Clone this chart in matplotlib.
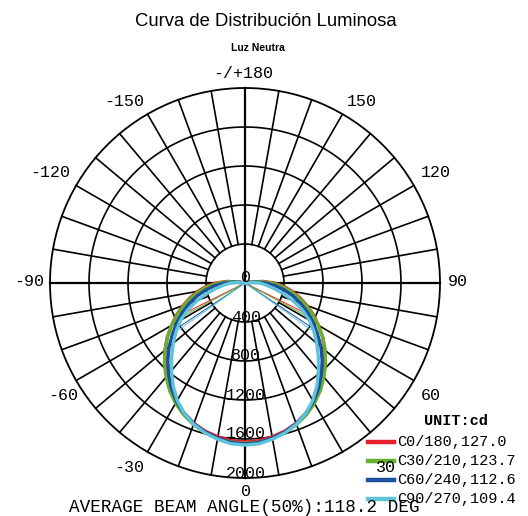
import numpy as np
import matplotlib
matplotlib.use("Agg")
import matplotlib.pyplot as plt
from matplotlib.lines import Line2D

# ---------------- data ----------------
angles = [0, 5, 10, 15, 20, 25, 30, 35, 40, 45, 50, 55, 60, 65, 70, 75, 80,
          85, 90, 95, 100]
c0_180 = [1630, 1624, 1602, 1574, 1532, 1477, 1414, 1335, 1247, 1161, 1070,
          973, 870, 774, 675, 582, 490, 397, 300, 185, 60]
c30_210 = [1645, 1639, 1620, 1589, 1546, 1491, 1425, 1348, 1260, 1168, 1072,
           974, 868, 765, 663, 566, 471, 373, 275, 160, 40]
c60_240 = [1650, 1642, 1615, 1582, 1536, 1475, 1404, 1317, 1219, 1120, 1016,
           906, 805, 707, 604, 507, 407, 309, 210, 110, 20]
c90_270 = [1662, 1655, 1627, 1591, 1542, 1475, 1390, 1285, 1172, 1063, 960,
           862, 762, 645, 520, 398, 290, 212, 150, 80, 0]
series = [c0_180, c30_210, c60_240, c90_270]
series_labels = ["C0/180,127.0", "C30/210,123.7", "C60/240,112.6", "C90/270,109.4"]
beam_angles = [127.0, 123.7, 112.6, 109.4]
colors = ["#e5202b", "#66b22e", "#1d4f9e", "#5fc3d9"]

ring_values = [0, 400, 800, 1200, 1600, 2000]
ring_labels = ["0", "400", "800", "1200", "1600", "2000"]
angle_labels = ["-/+180", "-150", "150", "-120", "120", "-90", "90",
                "-60", "60", "-30", "30", "0"]
angle_label_px = [(243, 73), (124, 101), (362, 101), (50, 173), (436, 173),
                  (29, 281), (458, 281), (63, 395), (431, 395),
                  (129, 468), (386, 468), (246, 492)]

title = "Curva de Distribución Luminosa"
subtitle = "Luz Neutra"
unit_text = "UNIT:cd"
beam_text = "AVERAGE BEAM ANGLE(50%):118.2 DEG"

# ---------------- figure ----------------
W, H = 528, 516
fig = plt.figure(figsize=(W / 100, H / 100), dpi=100)
fig.patch.set_facecolor("white")

def fx(x):
    return x / W

def fy(y):
    return 1 - y / H

cx, cy, R = 245, 283, 195
ax = fig.add_axes([fx(cx - R), fy(cy + R), 2 * R / W, 2 * R / H],
                  projection="polar")
ax.set_theta_zero_location("S")
ax.set_theta_direction(1)
ax.set_rlim(0, 2000)
ax.grid(False)
ax.set_xticks([])
ax.set_yticks([])
ax.spines["polar"].set_linewidth(1.3)
ax.spines["polar"].set_color("black")

tt = np.linspace(0, 2 * np.pi, 721)
for rv in ring_values[1:-1]:
    ax.plot(tt, np.full_like(tt, rv), color="black", lw=1.2, zorder=1)

for a in range(0, 360, 10):
    t = np.deg2rad(a)
    if a % 90 == 0:
        ax.plot([t, t], [0, 2000], color="black", lw=1.6, zorder=1,
                clip_on=False)
    else:
        ax.plot([t, t], [400, 2000], color="black", lw=1.2, zorder=1,
                clip_on=False)

# radial labels
for rv, lab in zip(ring_values, ring_labels):
    ypx = cy + rv / 2000 * R - 5
    fig.text(fx(246), fy(ypx), lab, ha="center", va="center",
             family="Liberation Mono", fontsize=12, color="black", zorder=5)

# curves
ang = np.array(angles, dtype=float)
for vals, col, ba in zip(series, colors, beam_angles):
    v = np.array(vals, dtype=float)
    th = np.deg2rad(np.concatenate([-ang[::-1], ang[1:]]))
    rr = np.concatenate([v[::-1], v[1:]])
    ax.plot(th, rr, color=col, lw=2.4, zorder=3, solid_joinstyle="round")
    half = np.deg2rad(ba / 2)
    ax.plot([-half, 0, half], [v[0] / 2, 0, v[0] / 2], color=col, lw=0.7,
            zorder=3)

# angle labels
for lab, (x, y) in zip(angle_labels, angle_label_px):
    fig.text(fx(x), fy(y), lab, ha="center", va="center",
             family="Liberation Mono", fontsize=12, color="black")

# titles
fig.text(fx(266), fy(21), title, ha="center", va="center",
         family="Liberation Sans", fontsize=13.3, color="black")
fig.text(fx(258), fy(48), subtitle, ha="center", va="center",
         family="Liberation Sans", fontsize=7.5, fontweight="bold",
         color="black")

# legend
fig.text(fx(456), fy(421), unit_text, ha="center", va="center",
         family="Liberation Mono", fontsize=11, fontweight="bold")
row_y = [442, 461, 480, 499]
for lab, col, y in zip(series_labels, colors, row_y):
    fig.add_artist(Line2D([fx(368), fx(394)], [fy(y), fy(y)], color=col,
                          lw=3.2, transform=fig.transFigure))
    fig.text(fx(397), fy(y), lab, ha="left", va="center",
             family="Liberation Mono", fontsize=11)

fig.text(fx(69), fy(507), beam_text, ha="left", va="center",
         family="Liberation Mono", fontsize=12.7)

fig.savefig("out.png", dpi=100, facecolor="white")
